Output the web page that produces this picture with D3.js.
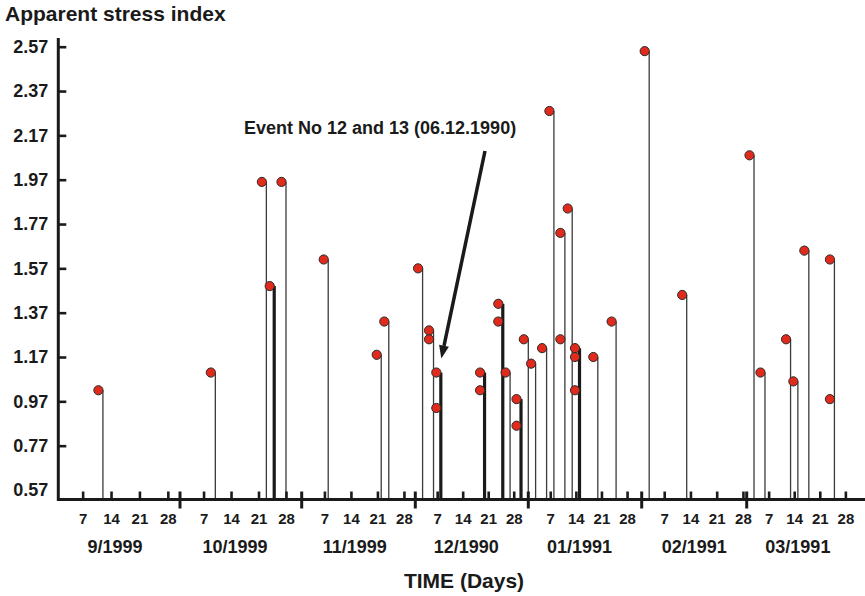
<!DOCTYPE html>
<meta charset="utf-8">
<style>
body { margin: 0; background: #fff; }
svg text { font-family: "Liberation Sans", Arial, sans-serif; font-weight: bold; fill: #1a1a1a; }
</style>
<svg id="chart" width="865" height="596"></svg>
<script src="https://d3js.org/d3.v7.min.js"></script>
<script>
// events: date and apparent stress index
var eventDates = [
  "1990-09-12", "1990-10-10", "1990-10-23", "1990-10-25", "1990-10-28",
  "1990-11-08", "1990-11-22", "1990-11-24", "1990-12-03", "1990-12-06",
  "1990-12-06", "1990-12-08", "1990-12-08", "1990-12-20", "1990-12-20",
  "1990-12-25", "1990-12-25", "1990-12-27", "1990-12-30", "1990-12-30",
  "1991-01-01", "1991-01-03", "1991-01-06", "1991-01-08", "1991-01-11",
  "1991-01-11", "1991-01-13", "1991-01-15", "1991-01-15", "1991-01-15",
  "1991-01-20", "1991-01-25", "1991-02-03", "1991-02-13", "1991-03-03",
  "1991-03-06", "1991-03-13", "1991-03-15", "1991-03-18", "1991-03-25",
  "1991-03-25"
];
var stressIndex = [
  1.02, 1.10, 1.96, 1.49, 1.96,
  1.61, 1.18, 1.33, 1.57, 1.29,
  1.25, 1.10, 0.94, 1.10, 1.02,
  1.41, 1.33, 1.10, 0.98, 0.86,
  1.25, 1.14, 1.21, 2.28, 1.73,
  1.25, 1.84, 1.21, 1.17, 1.02,
  1.17, 1.33, 2.55, 1.45, 2.08,
  1.10, 1.25, 1.06, 1.65, 1.61,
  0.98
];
// days with several events (heavy stems in the source)
var multiEventDays = ["1990-10-25", "1990-12-08", "1990-12-20", "1990-12-25", "1990-12-30", "1991-01-15"];

var monthStarts = ["1990-09-01", "1990-10-01", "1990-11-01", "1990-12-01", "1991-01-01", "1991-02-01", "1991-03-01", "1991-04-01"];
var monthLabels = ["9/1999", "10/1999", "11/1999", "12/1990", "01/1991", "02/1991", "03/1991"];
var weekDays = [7, 14, 21, 28];
var yTicks = [0.57, 0.77, 0.97, 1.17, 1.37, 1.57, 1.77, 1.97, 2.17, 2.37, 2.57];

var annotation = "Event No 12 and 13 (06.12.1990)";
var annotatedDay = "1990-12-08";

// ---------------- layout ----------------
var axisX = 58.3, axisY = 499.5;
// month boundaries are not evenly spaced on the hand drawn axis
var monthPx = [58.3, 180, 301.7, 415.3, 528.3, 641.7, 746.7, 860];

var parse = d3.timeParse("%Y-%m-%d");
var svg = d3.select("#chart");

var x = d3.scaleTime()
  .domain(monthStarts.map(parse))
  .range(monthPx);

var y = d3.scaleLinear()
  .domain([0.57, 2.57])
  .range([490, 46.7]);

var events = eventDates.map(function(d, i) { return {day: d, date: parse(d), value: stressIndex[i]}; });
var days = d3.rollups(events, function(v) { return d3.max(v, function(e) { return e.value; }); }, function(e) { return e.day; });

// stems
svg.append("g").selectAll("line")
  .data(days)
  .enter().append("line")
  .attr("x1", function(d) { return x(parse(d[0])); })
  .attr("x2", function(d) { return x(parse(d[0])); })
  .attr("y1", function(d) { return y(d[1]); })
  .attr("y2", axisY)
  .attr("stroke", function(d) { return multiEventDays.indexOf(d[0]) >= 0 ? "#1a1a1a" : "#3a3a3a"; })
  .attr("stroke-width", function(d) { return multiEventDays.indexOf(d[0]) >= 0 ? 3.2 : 1.3; });

// y axis
var yAxis = d3.axisLeft(y)
  .tickValues(yTicks.slice(1))
  .tickFormat(d3.format(".2f"))
  .tickSizeInner(-8)
  .tickSizeOuter(0)
  .tickPadding(10);
var gy = svg.append("g").attr("transform", "translate(" + axisX + ",0)").call(yAxis);
gy.select(".domain").remove();
gy.selectAll(".tick line").attr("stroke", "#1a1a1a").attr("stroke-width", 2.6);
gy.selectAll("text").style("font-size", "18px").attr("fill", "#1a1a1a");
gy.append("text")
  .attr("x", -10).attr("y", y(0.57)).attr("dy", "0.32em")
  .attr("text-anchor", "end")
  .style("font-size", "18px")
  .text(d3.format(".2f")(0.57));
svg.append("line")
  .attr("x1", axisX).attr("x2", axisX)
  .attr("y1", 38).attr("y2", axisY + 1.5)
  .attr("stroke", "#1a1a1a").attr("stroke-width", 3);

// x axis: week ticks within each month
var weekDates = [];
monthStarts.slice(0, -1).forEach(function(m) {
  var s = parse(m);
  weekDays.forEach(function(d) { weekDates.push(new Date(s.getFullYear(), s.getMonth(), d)); });
});
var xAxis = d3.axisBottom(x)
  .tickValues(weekDates)
  .tickFormat(d3.timeFormat("%-d"))
  .tickSizeInner(-8)
  .tickSizeOuter(0)
  .tickPadding(14);
var gx = svg.append("g").attr("transform", "translate(0," + axisY + ")").call(xAxis);
gx.select(".domain").remove();
gx.selectAll(".tick line").attr("stroke", "#1a1a1a").attr("stroke-width", 2.6);
gx.selectAll("text").style("font-size", "15px").attr("fill", "#1a1a1a");

svg.append("line")
  .attr("x1", axisX).attr("x2", 865)
  .attr("y1", axisY).attr("y2", axisY)
  .attr("stroke", "#1a1a1a").attr("stroke-width", 3);

// month boundary ticks
svg.append("g").selectAll("line")
  .data(monthStarts.slice(1, -1))
  .enter().append("line")
  .attr("x1", function(d) { return x(parse(d)); })
  .attr("x2", function(d) { return x(parse(d)); })
  .attr("y1", axisY - 8)
  .attr("y2", axisY + 9)
  .attr("stroke", "#1a1a1a").attr("stroke-width", 3);

// month labels
svg.append("g").selectAll("text")
  .data(monthLabels)
  .enter().append("text")
  .attr("x", function(d, i) { var s = parse(monthStarts[i]); return x(new Date(s.getFullYear(), s.getMonth(), 15)); })
  .attr("y", 553.3)
  .attr("text-anchor", "middle")
  .style("font-size", "18px")
  .text(function(d) { return d; });

svg.append("text")
  .attr("x", 464).attr("y", 588.3)
  .attr("text-anchor", "middle")
  .style("font-size", "21px")
  .text("TIME (Days)");

svg.append("text")
  .attr("x", 5).attr("y", 21)
  .style("font-size", "21px")
  .text("Apparent stress index");

// event markers
svg.append("g").selectAll("circle")
  .data(events)
  .enter().append("circle")
  .attr("cx", function(d) { return x(d.date) - 4.5; })
  .attr("cy", function(d) { return y(d.value); })
  .attr("r", 4.6)
  .attr("fill", "#e02a1c")
  .attr("stroke", "#2b2b2b")
  .attr("stroke-width", 1);

// annotation with arrow
svg.append("text")
  .attr("x", 244).attr("y", 134.3)
  .style("font-size", "18px")
  .text(annotation);

var annTop = d3.max(events.filter(function(e) { return e.day == annotatedDay; }), function(e) { return e.value; });
var tip = [x(parse(annotatedDay)) + 0.5, y(annTop) - 14];
var start = [485, 151];
var dx = tip[0] - start[0], dy = tip[1] - start[1];
var len = Math.sqrt(dx * dx + dy * dy);
var ux = dx / len, uy = dy / len;
var headLen = 13, headW = 5;
var base = [tip[0] - ux * headLen, tip[1] - uy * headLen];
svg.append("line")
  .attr("x1", start[0]).attr("y1", start[1])
  .attr("x2", base[0]).attr("y2", base[1])
  .attr("stroke", "#1a1a1a").attr("stroke-width", 3.5);
svg.append("path")
  .attr("d", d3.line()([
    tip,
    [base[0] - uy * headW, base[1] + ux * headW],
    [base[0] + uy * headW, base[1] - ux * headW]
  ]) + "Z")
  .attr("fill", "#1a1a1a");
</script>
